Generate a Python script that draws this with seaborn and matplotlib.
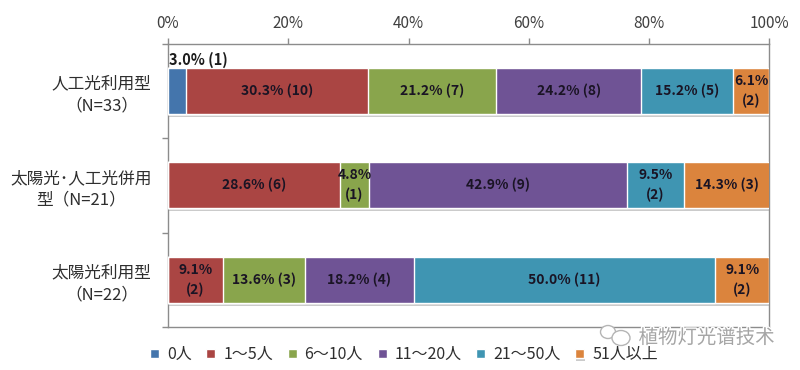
import seaborn as sns
import pandas as pd
import numpy as np
import matplotlib.pyplot as plt
import matplotlib.patheffects as pe
from matplotlib.patches import Ellipse

categories = ["人工光利用型\n（N=33）", "太陽光･人工光併用\n型（N=21）", "太陽光利用型\n（N=22）"]
groups = ["0人", "1～5人", "6～10人", "11～20人", "21～50人", "51人以上"]
colors = ["#4475AC", "#AA4543", "#89A54C", "#6F5395", "#3F95B2", "#DB843D"]

pct_0 = [3.0, 0, 0]
pct_1_5 = [30.3, 28.6, 9.1]
pct_6_10 = [21.2, 4.8, 13.6]
pct_11_20 = [24.2, 42.9, 18.2]
pct_21_50 = [15.2, 9.5, 50.0]
pct_51 = [6.1, 14.3, 9.1]

labels_0 = ["3.0% (1)", "", ""]
labels_1_5 = ["30.3% (10)", "28.6% (6)", "9.1%\n(2)"]
labels_6_10 = ["21.2% (7)", "4.8%\n(1)", "13.6% (3)"]
labels_11_20 = ["24.2% (8)", "42.9% (9)", "18.2% (4)"]
labels_21_50 = ["15.2% (5)", "9.5%\n(2)", "50.0% (11)"]
labels_51 = ["6.1%\n(2)", "14.3% (3)", "9.1%\n(2)"]

ticks = [0, 20, 40, 60, 80, 100]

sns.set_theme(style="white")
plt.rcParams["font.family"] = ["Noto Sans CJK JP", "DejaVu Sans"]

all_pct = np.array([pct_0, pct_1_5, pct_6_10, pct_11_20, pct_21_50, pct_51])
all_labels = [labels_0, labels_1_5, labels_6_10, labels_11_20, labels_21_50, labels_51]
cum = np.cumsum(all_pct, axis=0)

df = pd.DataFrame(cum.T, columns=groups)
df["cat"] = categories

fig = plt.figure(figsize=(8, 3.7), dpi=100)
ax = fig.add_axes([168 / 800, 1 - 327 / 370, (769.5 - 168) / 800, (327 - 43.5) / 370])

# stacked bars: draw the running totals from longest to shortest
for i in range(len(groups) - 1, -1, -1):
    sns.barplot(data=df, x=groups[i], y="cat", order=categories, orient="h",
                color=colors[i], saturation=1, width=0.49, edgecolor="white",
                linewidth=1, label=groups[i], ax=ax, zorder=3)

# soft shadow under the longest bars
for bar in ax.patches[:3]:
    bar.set_path_effects([pe.SimplePatchShadow(offset=(0.5, -2), shadow_rgbFace="#999999", alpha=0.5), pe.Normal()])

ax.set_xlim(0, 100)
ax.set_ylim(2.5, -0.5)
ax.set_xlabel("")
ax.set_ylabel("")

ax.xaxis.tick_top()
ax.set_xticks(ticks)
ax.set_xticklabels([str(t) + "%" for t in ticks])
ax.tick_params(axis="x", length=4, width=1, color="#8c8c8c", labelsize=11, labelcolor="#404040", pad=4.5, top=True, bottom=False)
ax.tick_params(axis="y", which="major", length=0, labelsize=12, labelcolor="#2e2e2e", pad=12)
ax.set_yticks([-0.5, 0.5, 1.5, 2.5], minor=True)
ax.tick_params(axis="y", which="minor", length=4, width=1, color="#8c8c8c", left=True)
for label in ax.get_yticklabels():
    label.set_multialignment("center")
    label.set_linespacing(1.35)

for side in ax.spines:
    ax.spines[side].set_visible(True)
    ax.spines[side].set_color("#8c8c8c")
    ax.spines[side].set_linewidth(1)

# value labels
for i in range(len(groups)):
    for j in range(len(categories)):
        txt = all_labels[i][j]
        if txt == "":
            continue
        center = cum[i][j] - all_pct[i][j] / 2
        if i == 0:
            ax.annotate(txt, xy=(0, j), xytext=(1, 22), textcoords="offset points", ha="left", va="center",
                        fontsize=10.5, fontweight="bold", color="#1c1c1c", zorder=5, annotation_clip=False)
        else:
            ax.text(center, j, txt, ha="center", va="center", fontsize=10, fontweight="bold",
                    color="#1a1424", linespacing=1.5, zorder=5)

handles, names = ax.get_legend_handles_labels()
ax.get_legend().remove()
fig.legend(handles[::-1], names[::-1], ncol=6, loc="center", bbox_to_anchor=(404 / 800, 1 - 354.5 / 370),
           frameon=False, fontsize=11.5, labelcolor="#2e2e2e", handlelength=0.55, handleheight=0.55,
           handletextpad=0.5, columnspacing=0.93, borderpad=0)

# watermark
fig.text(775 / 800, 1 - 338 / 370, "植物灯光谱技术", ha="right", va="center", fontsize=14, color="#a5a5a5",
         path_effects=[pe.withStroke(linewidth=2, foreground="white")], zorder=10)
for cx, cy, w, h in [(608, 332, 15, 13), (621, 338, 18, 15)]:
    fig.add_artist(Ellipse((cx / 800, 1 - cy / 370), w / 800, h / 370, transform=fig.transFigure,
                           facecolor="white", edgecolor="#b5b5b5", linewidth=1, zorder=10))

fig.savefig("out.png", dpi=100)
